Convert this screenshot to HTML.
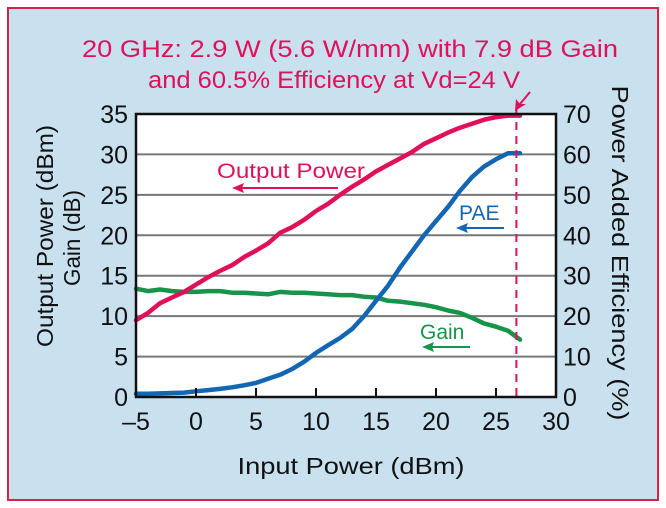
<!DOCTYPE html>
<html><head><meta charset="utf-8"><style>
html,body{margin:0;padding:0;background:#fff;}
svg{display:block;font-family:"Liberation Sans",sans-serif;}
</style></head><body>
<svg id="chart" width="666" height="508" viewBox="0 0 666 508">
<rect x="8" y="8" width="650" height="492" fill="#c9e1ef" stroke="#d3234a" stroke-width="2"/>
<text x="350" y="57" font-size="24" fill="#e0105a" text-anchor="middle" textLength="536" lengthAdjust="spacingAndGlyphs">20 GHz: 2.9 W (5.6 W/mm) with 7.9 dB Gain</text>
<text x="334" y="88" font-size="24" fill="#e0105a" text-anchor="middle" textLength="372" lengthAdjust="spacingAndGlyphs">and 60.5% Efficiency at Vd=24 V</text>
<rect x="136" y="114" width="420" height="283" fill="#fff"/>
<g id="grid"></g>
<g id="series"></g>
<rect x="136" y="114" width="420" height="283" fill="none" stroke="#111" stroke-width="2.5"/>
<g id="axes"></g>
<text x="351" y="474" font-size="23" fill="#111" text-anchor="middle" textLength="227" lengthAdjust="spacingAndGlyphs">Input Power (dBm)</text>
<text transform="translate(53,236) rotate(-90)" font-size="23" fill="#111" text-anchor="middle" textLength="222" lengthAdjust="spacingAndGlyphs">Output Power (dBm)</text>
<text transform="translate(80,238) rotate(-90)" font-size="23" fill="#111" text-anchor="middle" textLength="96" lengthAdjust="spacingAndGlyphs">Gain (dB)</text>
<text transform="translate(612,253) rotate(90)" font-size="23" fill="#111" text-anchor="middle" textLength="335" lengthAdjust="spacingAndGlyphs">Power Added Efficiency (%)</text>
<text x="217" y="178" font-size="21" fill="#e0105a" textLength="148" lengthAdjust="spacingAndGlyphs">Output Power</text>
<line x1="238" y1="188" x2="338" y2="188" stroke="#e0105a" stroke-width="2"/>
<path d="M232,188 L244,183 L242,188 L244,193 Z" fill="#e0105a"/>
<text x="459" y="220" font-size="21" fill="#1266b2">PAE</text>
<line x1="462" y1="228" x2="504" y2="228" stroke="#1266b2" stroke-width="2"/>
<path d="M456,228 L468,223 L466,228 L468,233 Z" fill="#1266b2"/>
<text x="420" y="339" font-size="21" fill="#16944a">Gain</text>
<line x1="428" y1="347" x2="470" y2="347" stroke="#16944a" stroke-width="2"/>
<path d="M422,347 L434,342 L432,347 L434,352 Z" fill="#16944a"/>
<line x1="530" y1="92" x2="520" y2="104" stroke="#e0105a" stroke-width="2"/>
<path d="M515,111 L516,99 L520,104 L526,104 Z" fill="#e0105a"/>
</svg>
<script>
const xVals=[-5,-4,-3,-2,-1,0,1,2,3,4,5,6,7,8,9,10,11,12,13,14,15,16,17,18,19,20,21,22,23,24,25,26,27];
const outputPower=[9.5,10.4,11.6,12.3,13.0,13.9,14.8,15.6,16.3,17.3,18.1,19.0,20.3,21.0,21.9,23.0,23.9,25.0,26.0,26.9,27.9,28.7,29.5,30.3,31.3,32.0,32.7,33.3,33.8,34.3,34.6,34.8,34.8];
const gain=[13.4,13.1,13.3,13.1,13.0,13.0,13.1,13.1,12.9,12.9,12.8,12.7,13.0,12.9,12.9,12.8,12.7,12.6,12.6,12.4,12.3,11.9,11.8,11.6,11.4,11.1,10.7,10.4,9.8,9.1,8.7,8.2,7.1];
const pae=[0.8,0.8,0.9,1.0,1.1,1.4,1.7,2.0,2.4,2.9,3.5,4.5,5.5,6.9,8.7,10.9,12.8,14.6,16.8,20,23.8,27.5,32,36,40,43.5,47,51,54.4,57,58.8,60.3,60.3];
const xTicks=[-5,0,5,10,15,20,25,30];
const xTickLabels=["\u20135","0","5","10","15","20","25","30"];
const leftTicks=[0,5,10,15,20,25,30,35];
const rightTicks=[0,10,20,30,40,50,60,70];
const markerX=26.7;
const L=136,R=556,T=114,B=397;
const sx=v=>L+(v+5)/35*(R-L);
const sy=v=>B-v/35*(B-T);
const sy2=v=>B-v/70*(B-T);
const NS="http://www.w3.org/2000/svg";
function mk(tag,attrs,parent){const e=document.createElementNS(NS,tag);for(const k in attrs)e.setAttribute(k,attrs[k]);parent.appendChild(e);return e;}
const grid=document.getElementById('grid'),series=document.getElementById('series'),axes=document.getElementById('axes');
leftTicks.forEach((t,i)=>{
 if(t>0&&t<35){const g=mk('line',{x1:L,x2:R,y1:sy(t),y2:sy(t),stroke:'#777','stroke-width':2},grid);
 
 }
 const lb=mk('text',{x:L-8,y:sy(t)+9,'font-size':25,'text-anchor':'end',fill:'#111'},axes);lb.textContent=t;
 
 
});
rightTicks.forEach(t=>{
 const lb=mk('text',{x:R+7,y:sy2(t)+9,'font-size':25,fill:'#111'},axes);lb.textContent=t;
 
 
});
xTicks.forEach((t,i)=>{
 if(t>-5&&t<30){const tk=mk('line',{x1:sx(t),x2:sx(t),y1:B,y2:B-9,stroke:'#111','stroke-width':2},axes);
 
 }
 const lb=mk('text',{x:sx(t),y:B+33,'font-size':25,'text-anchor':'middle',fill:'#111'},axes);lb.textContent=xTickLabels[i];
 
 
});
function line(vals,f,color,name){
 const d=vals.map((v,i)=>(i?'L':'M')+sx(xVals[i]).toFixed(1)+','+f(v).toFixed(1)).join(' ');
 const p=mk('path',{d:d,fill:'none',stroke:color,'stroke-width':4.5,'stroke-linejoin':'round','stroke-linecap':'round'},series);
 
 
}
line(gain,sy,'#16944a','gain-line');
line(pae,sy2,'#1266b2','pae-line');
line(outputPower,sy,'#e0105a','output-power-line');
const m=mk('line',{x1:sx(markerX),x2:sx(markerX),y1:108,y2:B,stroke:'#e0105a','stroke-width':2,'stroke-dasharray':'8,6'},series);


</script>
</body></html>
